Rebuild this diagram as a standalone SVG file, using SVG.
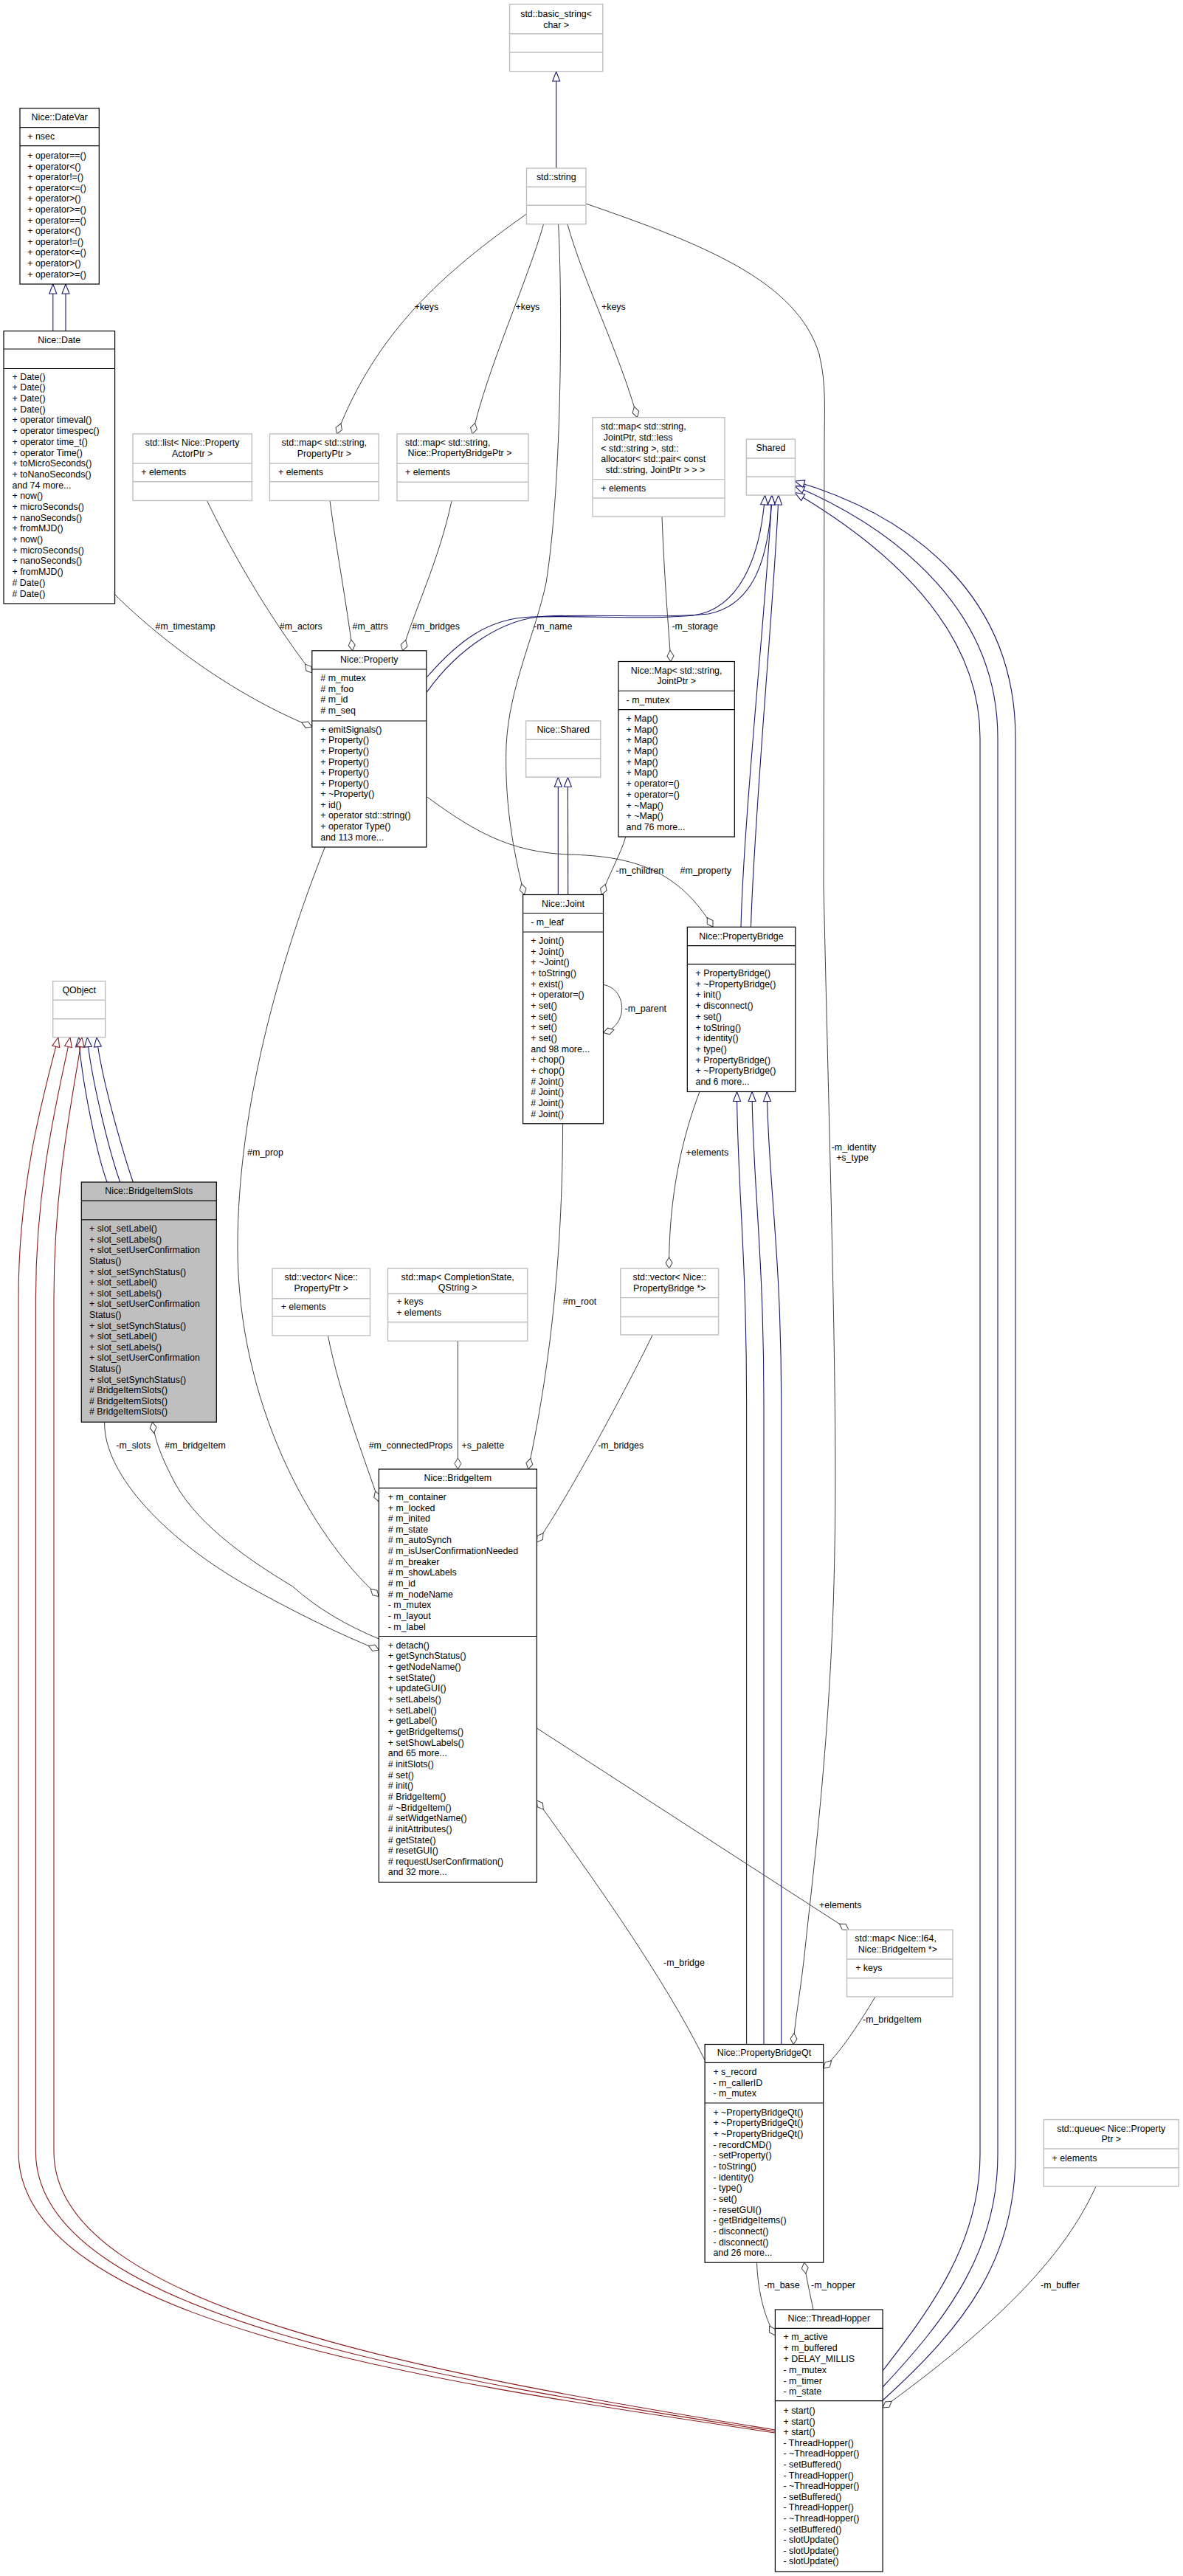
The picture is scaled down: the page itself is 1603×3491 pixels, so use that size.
<svg xmlns="http://www.w3.org/2000/svg" width="1603" height="3491" viewBox="0 0 1603 3491">
<defs>
<style>
text{font-family:"Liberation Sans",Arial,sans-serif;font-size:12.4px;fill:#000}
.c{text-anchor:middle}
.b{fill:#fff;stroke:#000;stroke-width:1.2}
.s{fill:#bfbfbf;stroke:#000;stroke-width:1.2}
.g{fill:#fff;stroke:#bfbfbf;stroke-width:1.4}
.bl{stroke:#000;stroke-width:1.2}
.gl{stroke:#bfbfbf;stroke-width:1.4}
.inh{fill:none;stroke:#191970;stroke-width:1.1;marker-end:url(#tb)}
.inr{fill:none;stroke:#8b1a1a;stroke-width:1.1;marker-end:url(#tr)}
.agg{fill:none;stroke:#404040;stroke-width:1;marker-end:url(#dm)}
</style>
<marker id="tb" markerUnits="userSpaceOnUse" markerWidth="16" markerHeight="12" viewBox="0 0 16 12" refX="14" refY="6" orient="auto" overflow="visible"><path d="M1,1 L14,6 L1,11 Z" fill="#fff" stroke="#191970" stroke-width="1.1"/></marker>
<marker id="tr" markerUnits="userSpaceOnUse" markerWidth="16" markerHeight="12" viewBox="0 0 16 12" refX="14" refY="6" orient="auto" overflow="visible"><path d="M1,1 L14,6 L1,11 Z" fill="#fff" stroke="#8b1a1a" stroke-width="1.1"/></marker>
<marker id="dm" markerUnits="userSpaceOnUse" markerWidth="18" markerHeight="12" viewBox="0 0 18 12" refX="16" refY="6" orient="auto" overflow="visible"><path d="M1,6 L8.5,1.5 L16,6 L8.5,10.5 Z" fill="#fff" stroke="#404040" stroke-width="1"/></marker>
</defs>
<rect width="1603" height="3491" fill="#fff"/>

<g id="edges">
<!-- inheritance -->
<path class="inh" d="M753.7,228 L753.7,97"/>
<path class="inh" d="M71.8,448.6 L71.8,385"/>
<path class="inh" d="M89,448.6 L89,385"/>
<path class="inh" d="M756.3,1212.5 L756.3,1053.2"/>
<path class="inh" d="M769.7,1212.5 C769.7,1150 769.4,1100 769.4,1053.2"/>
<path class="inh" d="M578.6,917.5 C620,870 660,838 720,836 C800,834 880,840 940,834 C1000,825 1030,760 1036.6,671"/>
<path class="inh" d="M578.6,937.6 C620,880 680,838 740,835 C820,832 900,838 960,832 C1020,820 1042,760 1046,671"/>
<path class="inh" d="M1004,1256.3 C1008,1100 1040,800 1046,671"/>
<path class="inh" d="M1017.5,1256.3 C1022,1100 1050,800 1055,671"/>
<path class="inh" d="M1196,3213 C1260,3130 1328,3040 1328,2920 L1328,1000 C1328,850 1200,740 1077,667.5"/>
<path class="inh" d="M1196,3235 C1285,3140 1352,3050 1352,2920 L1352,1000 C1352,830 1220,720 1077,658.6"/>
<path class="inh" d="M1196,3253 C1310,3150 1376,3060 1376,2920 L1376,1000 C1376,810 1240,700 1077,652"/>
<path class="inh" d="M1011.6,2770.5 L1011.6,1900 C1011.6,1700 999,1600 998.5,1479.5"/>
<path class="inh" d="M1035,2770.5 L1035,1900 C1035,1700 1020,1600 1019,1479.5"/>
<path class="inh" d="M1058.7,2770.5 L1058.7,1900 C1058.7,1700 1041,1600 1039.3,1479.5"/>
<path class="inh" d="M145,1602 C130,1560 110,1460 106.7,1405.7"/>
<path class="inh" d="M162.7,1602 C148,1560 123,1460 118.3,1405.7"/>
<path class="inh" d="M180.3,1602 C166,1560 137,1460 131,1405.7"/>
<path class="inr" d="M1050.4,3297 C600,3230 25,3150 25,2916 L25,1760 C25,1600 60,1480 79,1405.7"/>
<path class="inr" d="M1050.4,3295 C600,3225 48.4,3140 48.4,2916 L48.4,1760 C48.4,1600 80,1480 95,1405.7"/>
<path class="inr" d="M1050.4,3293 C600,3220 73,3130 73,2916 L73,1760 C73,1600 100,1480 111,1405.7"/>

<!-- collaboration -->
<path class="agg" d="M713.5,290 C600,370 510,450 456.5,588"/>
<path class="agg" d="M736.5,304 C715,380 660,500 640.3,588"/>
<path class="agg" d="M769,304 C790,380 840,480 863.4,565.7"/>
<path class="agg" d="M756.6,304 C762,400 762,650 740,790 C725,860 690,930 686,1010 C683,1100 700,1170 710.4,1212.5"/>
<path class="agg" d="M794,276 C950,330 1080,380 1110,480 C1120,520 1117,560 1117,600 L1116,1200 C1125,1600 1135,1900 1131,2100 C1127,2350 1100,2550 1090,2650 C1083,2710 1077,2740 1075,2770.5"/>
<path class="agg" d="M897,700 C900,780 905,840 909,896.5"/>
<path class="agg" d="M847.9,1134 C840,1160 825,1185 815.3,1212.5"/>
<path class="agg" d="M578.7,1080 C640,1125 690,1155 770,1158 C860,1160 920,1180 966,1256.3"/>
<path class="agg" d="M817.5,1334.4 C850,1340 852,1390 817.5,1399.5"/>
<path class="agg" d="M156,806 C200,850 300,935 422.8,985"/>
<path class="agg" d="M280.5,678.5 C310,740 360,830 422.8,912"/>
<path class="agg" d="M447,678.5 C455,740 470,820 477.6,881.8"/>
<path class="agg" d="M612,678.7 C595,760 560,830 545.6,881.8"/>
<path class="agg" d="M440.3,1148 C380,1300 322,1500 322,1690 C322,1900 420,2080 513.4,2163.5"/>
<path class="agg" d="M141.7,1927.2 C140,2000 230,2090 336.7,2150 C400,2185 460,2215 513.4,2236"/>
<path class="agg" d="M513.4,2221 C470,2203 430,2180 396.7,2150 C330,2110 260,2060 232,2000 C222,1980 210,1955 206.7,1927.2"/>
<path class="agg" d="M444.4,1810 C460,1890 495,1980 513.4,2035"/>
<path class="agg" d="M620.4,1817.3 L620.4,1991"/>
<path class="agg" d="M762.6,1522.8 C762,1750 735,1900 715.8,1991"/>
<path class="agg" d="M884.2,1809 C860,1860 770,2030 727.4,2090"/>
<path class="agg" d="M948,1479.5 C925,1540 906,1620 906.6,1719"/>
<path class="agg" d="M727.4,2342 L1150,2615.4"/>
<path class="agg" d="M955.1,2792 C900,2680 800,2540 727.4,2440"/>
<path class="agg" d="M1186,2706 C1160,2750 1135,2785 1115.7,2803"/>
<path class="agg" d="M1025.5,3066.2 C1027,3110 1038,3145 1050.4,3165"/>
<path class="agg" d="M1102,3130 C1098,3110 1093,3090 1089.7,3066.2"/>
<path class="agg" d="M1485,2963 C1450,3040 1380,3130 1196.1,3263"/>

<!-- labels -->
<text x="561.4" y="420.3">+keys</text>
<text x="698.6" y="420.3">+keys</text>
<text x="815" y="420.3">+keys</text>
<text x="210.5" y="853.3">#m_timestamp</text>
<text x="378.8" y="853.3">#m_actors</text>
<text x="477.6" y="853.3">#m_attrs</text>
<text x="558.2" y="853.3">#m_bridges</text>
<text x="723" y="853.3">-m_name</text>
<text x="910.4" y="853.3">-m_storage</text>
<text x="834.5" y="1183.8">-m_children</text>
<text x="921.5" y="1183.8">#m_property</text>
<text x="846.5" y="1371.3">-m_parent</text>
<text x="335" y="1566.3">#m_prop</text>
<text x="929.6" y="1566.3">+elements</text>
<text x="1157" y="1559.3" class="c">-m_identity</text>
<text x="1155" y="1573.3" class="c">+s_type</text>
<text x="762.8" y="1768.3">#m_root</text>
<text x="157.3" y="1962.9">-m_slots</text>
<text x="223.3" y="1962.9">#m_bridgeItem</text>
<text x="613.3" y="1963.3" text-anchor="end">#m_connectedProps</text>
<text x="625.5" y="1963.3">+s_palette</text>
<text x="810.2" y="1963.3">-m_bridges</text>
<text x="1110" y="2586.3">+elements</text>
<text x="899" y="2664.3">-m_bridge</text>
<text x="1169" y="2741.3">-m_bridgeItem</text>
<text x="1035.4" y="3101.3">-m_base</text>
<text x="1099" y="3101.3">-m_hopper</text>
<text x="1410" y="3101.3">-m_buffer</text>
</g>

<g id="basic_string">
<rect class="g" x="690.5" y="5.7" width="126.3" height="91"/>
<line class="gl" x1="690.5" y1="45.7" x2="816.8" y2="45.7"/>
<line class="gl" x1="690.5" y1="71" x2="816.8" y2="71"/>
<text class="c" x="753.6" y="22.6">std::basic_string&lt;</text>
<text class="c" x="753.6" y="37.6">char &gt;</text>
</g>

<g id="std_string">
<rect class="g" x="713.5" y="228" width="80.5" height="75.7"/>
<line class="gl" x1="713.5" y1="253.3" x2="794" y2="253.3"/>
<line class="gl" x1="713.5" y1="278.3" x2="794" y2="278.3"/>
<text class="c" x="753.75" y="244.3">std::string</text>
</g>

<g id="DateVar">
<rect class="b" x="27" y="146.7" width="107.3" height="238.3"/>
<line class="bl" x1="27" y1="172.7" x2="134.3" y2="172.7"/>
<line class="bl" x1="27" y1="197.7" x2="134.3" y2="197.7"/>
<text class="c" x="80.65" y="163.3">Nice::DateVar</text>
<text x="37.3" y="189.3">+ nsec</text>
<text x="37.3" y="215"><tspan x="37.3" dy="0">+ operator==()</tspan><tspan x="37.3" dy="14.6">+ operator&lt;()</tspan><tspan x="37.3" dy="14.6">+ operator!=()</tspan><tspan x="37.3" dy="14.6">+ operator&lt;=()</tspan><tspan x="37.3" dy="14.6">+ operator&gt;()</tspan><tspan x="37.3" dy="14.6">+ operator&gt;=()</tspan><tspan x="37.3" dy="14.6">+ operator==()</tspan><tspan x="37.3" dy="14.6">+ operator&lt;()</tspan><tspan x="37.3" dy="14.6">+ operator!=()</tspan><tspan x="37.3" dy="14.6">+ operator&lt;=()</tspan><tspan x="37.3" dy="14.6">+ operator&gt;()</tspan><tspan x="37.3" dy="14.6">+ operator&gt;=()</tspan></text>
</g>

<g id="Date">
<rect class="b" x="5" y="448.6" width="150.6" height="369.4"/>
<line class="bl" x1="5" y1="473" x2="155.6" y2="473"/>
<line class="bl" x1="5" y1="499.5" x2="155.6" y2="499.5"/>
<text class="c" x="80.3" y="465.3">Nice::Date</text>
<text x="16.5" y="514.7"><tspan x="16.5" dy="0">+ Date()</tspan><tspan x="16.5" dy="14.69">+ Date()</tspan><tspan x="16.5" dy="14.69">+ Date()</tspan><tspan x="16.5" dy="14.69">+ Date()</tspan><tspan x="16.5" dy="14.69">+ operator timeval()</tspan><tspan x="16.5" dy="14.69">+ operator timespec()</tspan><tspan x="16.5" dy="14.69">+ operator time_t()</tspan><tspan x="16.5" dy="14.69">+ operator Time()</tspan><tspan x="16.5" dy="14.69">+ toMicroSeconds()</tspan><tspan x="16.5" dy="14.69">+ toNanoSeconds()</tspan><tspan x="16.5" dy="14.69">and 74 more...</tspan><tspan x="16.5" dy="14.69">+ now()</tspan><tspan x="16.5" dy="14.69">+ microSeconds()</tspan><tspan x="16.5" dy="14.69">+ nanoSeconds()</tspan><tspan x="16.5" dy="14.69">+ fromMJD()</tspan><tspan x="16.5" dy="14.69">+ now()</tspan><tspan x="16.5" dy="14.69">+ microSeconds()</tspan><tspan x="16.5" dy="14.69">+ nanoSeconds()</tspan><tspan x="16.5" dy="14.69">+ fromMJD()</tspan><tspan x="16.5" dy="14.69"># Date()</tspan><tspan x="16.5" dy="14.69"># Date()</tspan></text>
</g>

<g id="list_actor">
<rect class="g" x="180" y="588" width="161.3" height="90.5"/>
<line class="gl" x1="180" y1="628" x2="341.3" y2="628"/>
<line class="gl" x1="180" y1="652.7" x2="341.3" y2="652.7"/>
<text class="c" x="260.6" y="604.3">std::list&lt; Nice::Property</text>
<text class="c" x="260.6" y="618.6">ActorPtr &gt;</text>
<text x="191.3" y="644.3">+ elements</text>
</g>

<g id="map_propptr">
<rect class="g" x="365.4" y="588" width="147.8" height="90.5"/>
<line class="gl" x1="365.4" y1="628" x2="513.2" y2="628"/>
<line class="gl" x1="365.4" y1="652.7" x2="513.2" y2="652.7"/>
<text class="c" x="439.3" y="604.3">std::map&lt; std::string,</text>
<text class="c" x="439.3" y="618.6">PropertyPtr &gt;</text>
<text x="377" y="644.3">+ elements</text>
</g>

<g id="map_pbptr">
<rect class="g" x="538" y="588" width="178" height="90.7"/>
<line class="gl" x1="538" y1="628.2" x2="716" y2="628.2"/>
<line class="gl" x1="538" y1="653.2" x2="716" y2="653.2"/>
<text x="549" y="603.9">std::map&lt; std::string,</text>
<text x="552.6" y="618.3">Nice::PropertyBridgePtr &gt;</text>
<text x="549" y="644.1">+ elements</text>
</g>

<g id="map_jointptr">
<rect class="g" x="803" y="565.7" width="179" height="134.3"/>
<line class="gl" x1="803" y1="649.6" x2="982" y2="649.6"/>
<line class="gl" x1="803" y1="675" x2="982" y2="675"/>
<text x="814.3" y="581.6">std::map&lt; std::string,</text>
<text x="817.8" y="596.8">JointPtr, std::less</text>
<text x="814.3" y="611.5">&lt; std::string &gt;, std::</text>
<text x="814.3" y="626.3">allocator&lt; std::pair&lt; const</text>
<text x="820.6" y="641">std::string, JointPtr &gt; &gt; &gt;</text>
<text x="814.3" y="666">+ elements</text>
</g>

<g id="Shared">
<rect class="g" x="1011.4" y="595.2" width="66" height="75.8"/>
<line class="gl" x1="1011.4" y1="621" x2="1077.4" y2="621"/>
<line class="gl" x1="1011.4" y1="646" x2="1077.4" y2="646"/>
<text class="c" x="1044.4" y="611.1">Shared</text>
</g>

<g id="Property">
<rect class="b" x="422.8" y="881.8" width="155" height="266.2"/>
<line class="bl" x1="422.8" y1="907" x2="577.8" y2="907"/>
<line class="bl" x1="422.8" y1="977" x2="577.8" y2="977"/>
<text class="c" x="500.3" y="897.5">Nice::Property</text>
<text x="434.3" y="922.8"><tspan x="434.3" dy="0"># m_mutex</tspan><tspan x="434.3" dy="14.73"># m_foo</tspan><tspan x="434.3" dy="14.73"># m_id</tspan><tspan x="434.3" dy="14.73"># m_seq</tspan></text>
<text x="434.3" y="992.8"><tspan x="434.3" dy="0">+ emitSignals()</tspan><tspan x="434.3" dy="14.58">+ Property()</tspan><tspan x="434.3" dy="14.58">+ Property()</tspan><tspan x="434.3" dy="14.58">+ Property()</tspan><tspan x="434.3" dy="14.58">+ Property()</tspan><tspan x="434.3" dy="14.58">+ Property()</tspan><tspan x="434.3" dy="14.58">+ ~Property()</tspan><tspan x="434.3" dy="14.58">+ id()</tspan><tspan x="434.3" dy="14.58">+ operator std::string()</tspan><tspan x="434.3" dy="14.58">+ operator Type()</tspan><tspan x="434.3" dy="14.58">and 113 more...</tspan></text>
</g>

<g id="Map">
<rect class="b" x="838" y="896.5" width="157.3" height="237.5"/>
<line class="bl" x1="838" y1="936.25" x2="995.3" y2="936.25"/>
<line class="bl" x1="838" y1="961.7" x2="995.3" y2="961.7"/>
<text class="c" x="916.6" y="913.3">Nice::Map&lt; std::string,</text>
<text class="c" x="916.6" y="927.2">JointPtr &gt;</text>
<text x="848.6" y="953">- m_mutex</text>
<text x="848.6" y="978"><tspan x="848.6" dy="0">+ Map()</tspan><tspan x="848.6" dy="14.69">+ Map()</tspan><tspan x="848.6" dy="14.69">+ Map()</tspan><tspan x="848.6" dy="14.69">+ Map()</tspan><tspan x="848.6" dy="14.69">+ Map()</tspan><tspan x="848.6" dy="14.69">+ Map()</tspan><tspan x="848.6" dy="14.69">+ operator=()</tspan><tspan x="848.6" dy="14.69">+ operator=()</tspan><tspan x="848.6" dy="14.69">+ ~Map()</tspan><tspan x="848.6" dy="14.69">+ ~Map()</tspan><tspan x="848.6" dy="14.69">and 76 more...</tspan></text>
</g>

<g id="NiceShared">
<rect class="g" x="712.6" y="977" width="101.2" height="76.2"/>
<line class="gl" x1="712.6" y1="1002.3" x2="813.8" y2="1002.3"/>
<line class="gl" x1="712.6" y1="1028" x2="813.8" y2="1028"/>
<text class="c" x="763.2" y="993.3">Nice::Shared</text>
</g>

<g id="Joint">
<rect class="b" x="708.6" y="1212.5" width="108.9" height="310.3"/>
<line class="bl" x1="708.6" y1="1237.5" x2="817.5" y2="1237.5"/>
<line class="bl" x1="708.6" y1="1263" x2="817.5" y2="1263"/>
<text class="c" x="763" y="1228.8">Nice::Joint</text>
<text x="719.3" y="1253.9">- m_leaf</text>
<text x="719.3" y="1278.9"><tspan x="719.3" dy="0">+ Joint()</tspan><tspan x="719.3" dy="14.68">+ Joint()</tspan><tspan x="719.3" dy="14.68">+ ~Joint()</tspan><tspan x="719.3" dy="14.68">+ toString()</tspan><tspan x="719.3" dy="14.68">+ exist()</tspan><tspan x="719.3" dy="14.68">+ operator=()</tspan><tspan x="719.3" dy="14.68">+ set()</tspan><tspan x="719.3" dy="14.68">+ set()</tspan><tspan x="719.3" dy="14.68">+ set()</tspan><tspan x="719.3" dy="14.68">+ set()</tspan><tspan x="719.3" dy="14.68">and 98 more...</tspan><tspan x="719.3" dy="14.68">+ chop()</tspan><tspan x="719.3" dy="14.68">+ chop()</tspan><tspan x="719.3" dy="14.68"># Joint()</tspan><tspan x="719.3" dy="14.68"># Joint()</tspan><tspan x="719.3" dy="14.68"># Joint()</tspan><tspan x="719.3" dy="14.68"># Joint()</tspan></text>
</g>

<g id="PropertyBridge">
<rect class="b" x="931.3" y="1256.3" width="146.5" height="223.2"/>
<line class="bl" x1="931.3" y1="1281.7" x2="1077.8" y2="1281.7"/>
<line class="bl" x1="931.3" y1="1306.7" x2="1077.8" y2="1306.7"/>
<text class="c" x="1004.5" y="1273">Nice::PropertyBridge</text>
<text x="942.5" y="1323"><tspan x="942.5" dy="0">+ PropertyBridge()</tspan><tspan x="942.5" dy="14.7">+ ~PropertyBridge()</tspan><tspan x="942.5" dy="14.7">+ init()</tspan><tspan x="942.5" dy="14.7">+ disconnect()</tspan><tspan x="942.5" dy="14.7">+ set()</tspan><tspan x="942.5" dy="14.7">+ toString()</tspan><tspan x="942.5" dy="14.7">+ identity()</tspan><tspan x="942.5" dy="14.7">+ type()</tspan><tspan x="942.5" dy="14.7">+ PropertyBridge()</tspan><tspan x="942.5" dy="14.7">+ ~PropertyBridge()</tspan><tspan x="942.5" dy="14.7">and 6 more...</tspan></text>
</g>

<g id="QObject">
<rect class="g" x="71.7" y="1329.8" width="71" height="75.9"/>
<line class="gl" x1="71.7" y1="1355.3" x2="142.7" y2="1355.3"/>
<line class="gl" x1="71.7" y1="1380.8" x2="142.7" y2="1380.8"/>
<text class="c" x="107.2" y="1346">QObject</text>
</g>

<g id="BridgeItemSlots">
<rect class="s" x="110.3" y="1602" width="183" height="325.2"/>
<line class="bl" x1="110.3" y1="1627.4" x2="293.3" y2="1627.4"/>
<line class="bl" x1="110.3" y1="1652.9" x2="293.3" y2="1652.9"/>
<text class="c" x="201.8" y="1618.2">Nice::BridgeItemSlots</text>
<text x="121" y="1669.1"><tspan x="121" dy="0">+ slot_setLabel()</tspan><tspan x="121" dy="14.6">+ slot_setLabels()</tspan><tspan x="121" dy="14.6">+ slot_setUserConfirmation</tspan><tspan x="121" dy="14.6">Status()</tspan><tspan x="121" dy="14.6">+ slot_setSynchStatus()</tspan><tspan x="121" dy="14.6">+ slot_setLabel()</tspan><tspan x="121" dy="14.6">+ slot_setLabels()</tspan><tspan x="121" dy="14.6">+ slot_setUserConfirmation</tspan><tspan x="121" dy="14.6">Status()</tspan><tspan x="121" dy="14.6">+ slot_setSynchStatus()</tspan><tspan x="121" dy="14.6">+ slot_setLabel()</tspan><tspan x="121" dy="14.6">+ slot_setLabels()</tspan><tspan x="121" dy="14.6">+ slot_setUserConfirmation</tspan><tspan x="121" dy="14.6">Status()</tspan><tspan x="121" dy="14.6">+ slot_setSynchStatus()</tspan><tspan x="121" dy="14.6"># BridgeItemSlots()</tspan><tspan x="121" dy="14.6"># BridgeItemSlots()</tspan><tspan x="121" dy="14.6"># BridgeItemSlots()</tspan></text>
</g>

<g id="vector_propptr">
<rect class="g" x="369" y="1719" width="132.5" height="91"/>
<line class="gl" x1="369" y1="1759.7" x2="501.5" y2="1759.7"/>
<line class="gl" x1="369" y1="1784" x2="501.5" y2="1784"/>
<text class="c" x="435.25" y="1735.3">std::vector&lt; Nice::</text>
<text class="c" x="435.25" y="1749.9">PropertyPtr &gt;</text>
<text x="380.7" y="1774.8">+ elements</text>
</g>

<g id="map_completion">
<rect class="g" x="525.5" y="1719" width="189.3" height="98.3"/>
<line class="gl" x1="525.5" y1="1753" x2="714.8" y2="1753"/>
<line class="gl" x1="525.5" y1="1791.7" x2="714.8" y2="1791.7"/>
<text class="c" x="620.15" y="1735.3">std::map&lt; CompletionState,</text>
<text class="c" x="620.15" y="1749.3">QString &gt;</text>
<text x="537.2" y="1768.3">+ keys</text>
<text x="537.2" y="1783.3">+ elements</text>
</g>

<g id="vector_pb">
<rect class="g" x="840.8" y="1719" width="132.8" height="90"/>
<line class="gl" x1="840.8" y1="1758.6" x2="973.6" y2="1758.6"/>
<line class="gl" x1="840.8" y1="1784.5" x2="973.6" y2="1784.5"/>
<text class="c" x="907.2" y="1735.3">std::vector&lt; Nice::</text>
<text class="c" x="907.2" y="1749.6">PropertyBridge *&gt;</text>
</g>

<g id="BridgeItem">
<rect class="b" x="513.4" y="1991" width="214" height="560"/>
<line class="bl" x1="513.4" y1="2016.6" x2="727.4" y2="2016.6"/>
<line class="bl" x1="513.4" y1="2217.5" x2="727.4" y2="2217.5"/>
<text class="c" x="620.4" y="2006.8">Nice::BridgeItem</text>
<text x="525.8" y="2032.9"><tspan x="525.8" dy="0">+ m_container</tspan><tspan x="525.8" dy="14.64">+ m_locked</tspan><tspan x="525.8" dy="14.64"># m_inited</tspan><tspan x="525.8" dy="14.64"># m_state</tspan><tspan x="525.8" dy="14.64"># m_autoSynch</tspan><tspan x="525.8" dy="14.64"># m_isUserConfirmationNeeded</tspan><tspan x="525.8" dy="14.64"># m_breaker</tspan><tspan x="525.8" dy="14.64"># m_showLabels</tspan><tspan x="525.8" dy="14.64"># m_id</tspan><tspan x="525.8" dy="14.64"># m_nodeName</tspan><tspan x="525.8" dy="14.64">- m_mutex</tspan><tspan x="525.8" dy="14.64">- m_layout</tspan><tspan x="525.8" dy="14.64">- m_label</tspan></text>
<text x="525.8" y="2233.8"><tspan x="525.8" dy="0">+ detach()</tspan><tspan x="525.8" dy="14.65">+ getSynchStatus()</tspan><tspan x="525.8" dy="14.65">+ getNodeName()</tspan><tspan x="525.8" dy="14.65">+ setState()</tspan><tspan x="525.8" dy="14.65">+ updateGUI()</tspan><tspan x="525.8" dy="14.65">+ setLabels()</tspan><tspan x="525.8" dy="14.65">+ setLabel()</tspan><tspan x="525.8" dy="14.65">+ getLabel()</tspan><tspan x="525.8" dy="14.65">+ getBridgeItems()</tspan><tspan x="525.8" dy="14.65">+ setShowLabels()</tspan><tspan x="525.8" dy="14.65">and 65 more...</tspan><tspan x="525.8" dy="14.65"># initSlots()</tspan><tspan x="525.8" dy="14.65"># set()</tspan><tspan x="525.8" dy="14.65"># init()</tspan><tspan x="525.8" dy="14.65"># BridgeItem()</tspan><tspan x="525.8" dy="14.65"># ~BridgeItem()</tspan><tspan x="525.8" dy="14.65"># setWidgetName()</tspan><tspan x="525.8" dy="14.65"># initAttributes()</tspan><tspan x="525.8" dy="14.65"># getState()</tspan><tspan x="525.8" dy="14.65"># resetGUI()</tspan><tspan x="525.8" dy="14.65"># requestUserConfirmation()</tspan><tspan x="525.8" dy="14.65">and 32 more...</tspan></text>
</g>

<g id="map_i64">
<rect class="g" x="1147.5" y="2615.4" width="143.5" height="90.6"/>
<line class="gl" x1="1147.5" y1="2655" x2="1291" y2="2655"/>
<line class="gl" x1="1147.5" y1="2680.7" x2="1291" y2="2680.7"/>
<text x="1158.3" y="2631.3">std::map&lt; Nice::I64,</text>
<text x="1162.8" y="2646">Nice::BridgeItem *&gt;</text>
<text x="1159.2" y="2671.3">+ keys</text>
</g>

<g id="PropertyBridgeQt">
<rect class="b" x="955.1" y="2770.5" width="160.6" height="295.7"/>
<line class="bl" x1="955.1" y1="2795.4" x2="1115.7" y2="2795.4"/>
<line class="bl" x1="955.1" y1="2850" x2="1115.7" y2="2850"/>
<text class="c" x="1035.4" y="2786.3">Nice::PropertyBridgeQt</text>
<text x="966.4" y="2811.6"><tspan x="966.4" dy="0">+ s_record</tspan><tspan x="966.4" dy="14.9">- m_callerID</tspan><tspan x="966.4" dy="14.9">- m_mutex</tspan></text>
<text x="966.4" y="2866.7"><tspan x="966.4" dy="0">+ ~PropertyBridgeQt()</tspan><tspan x="966.4" dy="14.65">+ ~PropertyBridgeQt()</tspan><tspan x="966.4" dy="14.65">+ ~PropertyBridgeQt()</tspan><tspan x="966.4" dy="14.65">- recordCMD()</tspan><tspan x="966.4" dy="14.65">- setProperty()</tspan><tspan x="966.4" dy="14.65">- toString()</tspan><tspan x="966.4" dy="14.65">- identity()</tspan><tspan x="966.4" dy="14.65">- type()</tspan><tspan x="966.4" dy="14.65">- set()</tspan><tspan x="966.4" dy="14.65">- resetGUI()</tspan><tspan x="966.4" dy="14.65">- getBridgeItems()</tspan><tspan x="966.4" dy="14.65">- disconnect()</tspan><tspan x="966.4" dy="14.65">- disconnect()</tspan><tspan x="966.4" dy="14.65">and 26 more...</tspan></text>
</g>

<g id="queue_propptr">
<rect class="g" x="1414.3" y="2872.5" width="182.9" height="90.5"/>
<line class="gl" x1="1414.3" y1="2912" x2="1597.2" y2="2912"/>
<line class="gl" x1="1414.3" y1="2937.8" x2="1597.2" y2="2937.8"/>
<text class="c" x="1505.75" y="2889.1">std::queue&lt; Nice::Property</text>
<text class="c" x="1505.75" y="2903.1">Ptr &gt;</text>
<text x="1425.5" y="2929.1">+ elements</text>
</g>

<g id="ThreadHopper">
<rect class="b" x="1050.4" y="3130" width="145.7" height="355"/>
<line class="bl" x1="1050.4" y1="3155.3" x2="1196.1" y2="3155.3"/>
<line class="bl" x1="1050.4" y1="3253.7" x2="1196.1" y2="3253.7"/>
<text class="c" x="1123.25" y="3146">Nice::ThreadHopper</text>
<text x="1061.5" y="3171.3"><tspan x="1061.5" dy="0">+ m_active</tspan><tspan x="1061.5" dy="14.8">+ m_buffered</tspan><tspan x="1061.5" dy="14.8">+ DELAY_MILLIS</tspan><tspan x="1061.5" dy="14.8">- m_mutex</tspan><tspan x="1061.5" dy="14.8">- m_timer</tspan><tspan x="1061.5" dy="14.8">- m_state</tspan></text>
<text x="1061.5" y="3271"><tspan x="1061.5" dy="0">+ start()</tspan><tspan x="1061.5" dy="14.6">+ start()</tspan><tspan x="1061.5" dy="14.6">+ start()</tspan><tspan x="1061.5" dy="14.6">- ThreadHopper()</tspan><tspan x="1061.5" dy="14.6">- ~ThreadHopper()</tspan><tspan x="1061.5" dy="14.6">- setBuffered()</tspan><tspan x="1061.5" dy="14.6">- ThreadHopper()</tspan><tspan x="1061.5" dy="14.6">- ~ThreadHopper()</tspan><tspan x="1061.5" dy="14.6">- setBuffered()</tspan><tspan x="1061.5" dy="14.6">- ThreadHopper()</tspan><tspan x="1061.5" dy="14.6">- ~ThreadHopper()</tspan><tspan x="1061.5" dy="14.6">- setBuffered()</tspan><tspan x="1061.5" dy="14.6">- slotUpdate()</tspan><tspan x="1061.5" dy="14.6">- slotUpdate()</tspan><tspan x="1061.5" dy="14.6">- slotUpdate()</tspan></text>
</g>
</svg>
